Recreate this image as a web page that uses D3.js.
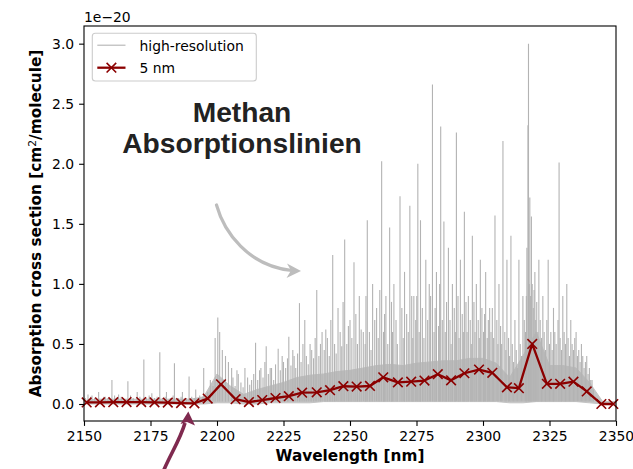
<!DOCTYPE html>
<html>
<head>
<meta charset="utf-8">
<script src="https://cdn.jsdelivr.net/npm/d3@7"></script>
<style>
  html, body { margin: 0; padding: 0; background: #fff; }
  svg { display: block; }
  text { font-family: "DejaVu Sans", sans-serif; }
</style>
</head>
<body>
<svg id="chart" width="633" height="469"></svg>
<script>
// ---- data -------------------------------------------------------------
// 5 nm convolved cross section (units of 1e-20 cm^2/molecule)
const wavelength5 = [2151, 2156, 2161, 2166, 2171.5, 2176.5, 2181.5, 2186.5, 2191.5, 2196.5,
  2201.5, 2207, 2212, 2217, 2222, 2227, 2232, 2237.5, 2242.5, 2247.5,
  2252.5, 2257.5, 2262.5, 2268, 2273, 2278, 2283, 2288, 2293, 2298.5,
  2303.5, 2309, 2313.5, 2318.5, 2324, 2329, 2334, 2339, 2344.5, 2349];
const values5 = [0.013, 0.014, 0.015, 0.016, 0.016, 0.014, 0.012, 0.008, 0.006, 0.045,
  0.164, 0.040, 0.016, 0.033, 0.050, 0.065, 0.094, 0.097, 0.115, 0.148,
  0.145, 0.150, 0.222, 0.180, 0.186, 0.195, 0.248, 0.197, 0.256, 0.287,
  0.260, 0.139, 0.132, 0.500, 0.168, 0.168, 0.186, 0.105, 0.000, 0.000];

// high-resolution spectrum: envelope of the dense line forest (every 5 nm)
const bandWavelength = [2150, 2155, 2160, 2165, 2170, 2175, 2180, 2185, 2190, 2195,
  2200, 2205, 2210, 2215, 2220, 2225, 2230, 2235, 2240, 2245,
  2250, 2255, 2260, 2265, 2270, 2275, 2280, 2285, 2290, 2295,
  2300, 2305, 2310, 2315, 2320, 2325, 2330, 2335, 2340, 2345, 2350];
const bandLow = [0.00, 0.00, 0.00, 0.00, 0.00, 0.00, 0.00, 0.00, 0.00, 0.00,
  0.01, 0.01, 0.00, 0.00, 0.01, 0.01, 0.01, 0.01, 0.02, 0.02,
  0.02, 0.02, 0.02, 0.02, 0.02, 0.02, 0.02, 0.02, 0.02, 0.02,
  0.02, 0.02, 0.01, 0.01, 0.02, 0.02, 0.02, 0.02, 0.01, 0.00, 0.00];
const bandHigh = [0.03, 0.04, 0.04, 0.04, 0.04, 0.04, 0.04, 0.04, 0.04, 0.06,
  0.25, 0.15, 0.08, 0.12, 0.15, 0.18, 0.22, 0.24, 0.25, 0.27,
  0.28, 0.30, 0.32, 0.33, 0.32, 0.34, 0.35, 0.36, 0.36, 0.38,
  0.38, 0.34, 0.22, 0.40, 0.60, 0.32, 0.32, 0.30, 0.18, 0.02, 0.02];

// high-resolution spectrum: strong individual lines [wavelength, peak]
const lineCenters = [2151.5, 2153, 2155.5, 2158, 2160.5, 2163, 2166.5, 2170, 2172.5, 2175.5,
  2178.5, 2181, 2184, 2187, 2189.5, 2192, 2195, 2197.5, 2199.3, 2200.3,
  2201, 2202, 2203.2, 2204.3, 2205.5, 2208, 2210.5, 2213, 2214.5, 2216.5,
  2218.5, 2220.5, 2223, 2225, 2227, 2229, 2231, 2233, 2235, 2237.5,
  2239.5, 2241.5, 2243.5, 2245.5, 2248, 2250, 2251.5, 2253.5, 2255, 2256.5,
  2258.5, 2260, 2261.9, 2263.5, 2264.9, 2266.5, 2268.8, 2270.5, 2272.5, 2274,
  2275.5, 2276.5, 2278.5, 2279.8, 2281, 2282.5, 2284.1, 2285.3, 2287, 2288.5,
  2290, 2291.5, 2293, 2294.5, 2296, 2297.5, 2299, 2301, 2302.5, 2304.5,
  2306, 2307.5, 2309, 2310.5, 2312, 2313.5, 2315, 2316.5, 2316.9, 2317.1,
  2317.6, 2318.2, 2319.5, 2321, 2322.5, 2324.5, 2326.5, 2328.6, 2330, 2331.5,
  2333, 2335, 2337, 2339, 2341];
const linePeaks = [0.08, 0.07, 0.10, 0.06, 0.20, 0.08, 0.19, 0.10, 0.37, 0.09,
  0.43, 0.10, 0.34, 0.10, 0.23, 0.12, 0.30, 0.20, 0.55, 0.72,
  0.60, 0.45, 0.40, 0.35, 0.30, 0.25, 0.30, 0.20, 0.51, 0.30,
  0.48, 0.30, 0.46, 0.35, 0.56, 0.40, 0.84, 0.70, 0.50, 0.95,
  0.60, 0.55, 1.24, 0.80, 1.37, 0.70, 1.18, 0.90, 0.60, 1.53,
  1.00, 0.80, 2.02, 0.90, 1.47, 1.00, 1.73, 1.10, 1.65, 0.90,
  2.00, 1.53, 1.20, 1.00, 2.66, 1.10, 2.31, 1.52, 1.30, 1.00,
  2.26, 1.20, 1.60, 0.90, 1.40, 1.00, 1.20, 1.10, 0.80, 1.57,
  1.00, 2.19, 1.20, 1.40, 0.70, 1.20, 0.90, 1.30, 2.32, 3.00,
  1.72, 1.56, 1.10, 1.20, 0.90, 1.20, 0.80, 2.01, 0.90, 1.00,
  0.70, 0.60, 0.50, 0.40, 0.20];

// high-resolution spectrum: weaker lines forming the jagged top of the forest
const weakCenters = [2150.5, 2152.5, 2154, 2156.5, 2157.5, 2159, 2161.5, 2162.5, 2164, 2165.5,
  2167.5, 2168.5, 2171, 2173.5, 2174.5, 2176.5, 2177.5, 2179.5, 2180.5, 2182.5,
  2183.5, 2185.5, 2186.5, 2188.5, 2190.5, 2191.5, 2193.5, 2194.5, 2196.5, 2198.5,
  2206.0, 2206.8, 2207.5, 2209.0, 2209.8, 2211.5, 2212.3, 2213.8, 2215.3, 2216.0,
  2217.3, 2218.0, 2219.3, 2220.0, 2221.3, 2222.0, 2223.8, 2224.5, 2225.8, 2226.5,
  2227.8, 2228.5, 2229.6, 2230.3, 2231.6, 2232.3, 2233.6, 2234.3, 2235.6, 2236.3,
  2236.9, 2238.3, 2238.9, 2240.3, 2240.9, 2242.2, 2242.8, 2244.2, 2244.8, 2246.3,
  2246.9, 2247.4, 2248.8, 2249.4, 2250.7, 2252.2, 2252.8, 2254.2, 2255.7, 2256.0,
  2257.3, 2257.9, 2259.3, 2260.6, 2261.2, 2262.6, 2263.0, 2264.2, 2265.6, 2266.0,
  2267.3, 2267.8, 2269.5, 2270.0, 2271.3, 2271.9, 2273.2, 2273.6, 2274.7, 2275.1,
  2276.0, 2277.2, 2277.8, 2279.2, 2280.3, 2281.6, 2282.0, 2283.3, 2283.7, 2284.7,
  2285.8, 2286.3, 2287.6, 2288.0, 2289.2, 2289.6, 2290.6, 2291.0, 2292.2, 2292.6,
  2293.6, 2294.0, 2295.2, 2295.6, 2296.6, 2297.0, 2298.2, 2298.6, 2299.6, 2300.2,
  2300.6, 2301.6, 2302.0, 2303.0, 2303.5, 2304.0, 2305.2, 2305.6, 2306.6, 2307.0,
  2308.2, 2308.6, 2309.6, 2310.0, 2311.0, 2311.5, 2312.5, 2313.0, 2314.0, 2314.5,
  2315.5, 2316.0, 2316.3, 2317.4, 2317.9, 2318.5, 2318.9, 2319.2, 2319.8, 2320.2,
  2320.6, 2321.5, 2322.0, 2323.0, 2323.5, 2324.0, 2325.0, 2325.5, 2326.0, 2327.0,
  2327.5, 2328.2, 2329.0, 2329.5, 2330.5, 2331.0, 2332.0, 2332.5, 2333.5, 2334.0,
  2334.5, 2335.5, 2336.0, 2336.5, 2337.5, 2338.0, 2338.5, 2339.5, 2340.0, 2340.5,
  2341.5];
const weakPeaks = [0.05, 0.06, 0.05, 0.04, 0.06, 0.05, 0.07, 0.05, 0.06, 0.04,
  0.07, 0.05, 0.06, 0.05, 0.07, 0.05, 0.06, 0.05, 0.06, 0.05,
  0.07, 0.05, 0.06, 0.05, 0.06, 0.05, 0.07, 0.06, 0.10, 0.15,
  0.22, 0.15, 0.28, 0.18, 0.14, 0.22, 0.16, 0.25, 0.20, 0.28,
  0.22, 0.35, 0.25, 0.30, 0.20, 0.33, 0.28, 0.40, 0.30, 0.38,
  0.32, 0.45, 0.30, 0.42, 0.35, 0.50, 0.40, 0.33, 0.45, 0.38,
  0.55, 0.40, 0.50, 0.45, 0.62, 0.40, 0.70, 0.50, 0.42, 0.60,
  0.48, 0.85, 0.50, 0.65, 0.55, 0.75, 0.50, 0.62, 0.50, 0.90,
  0.60, 0.45, 0.70, 0.55, 0.95, 0.60, 0.75, 0.50, 0.85, 0.60,
  0.70, 0.50, 0.80, 0.55, 0.75, 0.60, 0.90, 0.55, 0.70, 0.90,
  0.60, 0.80, 0.55, 0.70, 0.90, 0.60, 0.80, 0.65, 1.00, 0.70,
  0.60, 0.85, 0.70, 0.50, 0.80, 0.60, 0.90, 0.55, 0.75, 0.60,
  0.85, 0.60, 0.70, 0.50, 0.85, 0.60, 0.70, 0.55, 0.80, 0.60,
  0.75, 0.55, 0.70, 0.60, 0.80, 0.55, 0.70, 0.50, 0.65, 0.50,
  0.60, 0.45, 0.55, 0.40, 0.50, 0.35, 0.45, 0.30, 0.50, 0.40,
  0.70, 0.60, 0.90, 1.00, 0.90, 1.00, 0.80, 0.95, 0.70, 0.85,
  0.60, 0.70, 0.55, 0.60, 0.45, 0.70, 0.50, 0.60, 0.45, 0.60,
  0.50, 0.70, 0.55, 0.45, 0.60, 0.50, 0.55, 0.40, 0.50, 0.45,
  0.55, 0.40, 0.45, 0.35, 0.40, 0.30, 0.35, 0.25, 0.30, 0.20,
  0.12];

const xTicks = [2150, 2175, 2200, 2225, 2250, 2275, 2300, 2325, 2350];
const yTicks = [0.0, 0.5, 1.0, 1.5, 2.0, 2.5, 3.0];

// ---- layout -----------------------------------------------------------
const svg = d3.select("#chart");
const plot = { left: 84, right: 616, top: 26, bottom: 421 };

const x = d3.scaleLinear().domain([2150, 2350]).range([plot.left, plot.right]);
const y = d3.scaleLinear().domain([-0.1415, 3.147]).range([plot.bottom, plot.top]);

const hiresColor = "#b3b3b3";
const redColor = "#8b0000";

svg.append("defs").append("clipPath").attr("id", "plotClip")
  .append("rect")
  .attr("x", plot.left).attr("y", plot.top)
  .attr("width", plot.right - plot.left).attr("height", plot.bottom - plot.top);

const data = svg.append("g").attr("clip-path", "url(#plotClip)");

// dense part of the high-resolution spectrum
const band = bandWavelength.map((w, i) => ({ w, lo: bandLow[i], hi: bandHigh[i] }));
data.append("path")
  .datum(band)
  .attr("fill", "#c4c4c4")
  .attr("stroke", "#c4c4c4")
  .attr("stroke-width", 1)
  .attr("d", d3.area().x(d => x(d.w)).y0(d => y(d.lo)).y1(d => y(d.hi)));

// individual lines rising out of the forest
const lines = lineCenters.map((w, i) => ({ w, v: linePeaks[i] }))
  .concat(weakCenters.map((w, i) => ({ w, v: weakPeaks[i] })));
data.append("g").selectAll("line")
  .data(lines)
  .join("line")
  .attr("x1", d => x(d.w)).attr("x2", d => x(d.w))
  .attr("y1", y(0.02)).attr("y2", d => y(d.v))
  .attr("stroke", hiresColor)
  .attr("stroke-width", 1.1);

// 5 nm curve
const conv = wavelength5.map((w, i) => ({ w, v: values5[i] }));
data.append("path")
  .datum(conv)
  .attr("fill", "none")
  .attr("stroke", redColor)
  .attr("stroke-width", 2.3)
  .attr("stroke-linejoin", "round")
  .attr("d", d3.line().x(d => x(d.w)).y(d => y(d.v)));

const s = 4.8;
const crossPath = `M${-s},${-s}L${s},${s}M${-s},${s}L${s},${-s}`;
svg.append("g").selectAll("path")
  .data(conv)
  .join("path")
  .attr("transform", d => `translate(${x(d.w)},${y(d.v)})`)
  .attr("d", crossPath)
  .attr("stroke", redColor)
  .attr("stroke-width", 1.6)
  .attr("fill", "none");

// ---- axes -------------------------------------------------------------
const tickFont = "13.9px";
const xAxis = svg.append("g")
  .attr("transform", `translate(0,${plot.bottom})`)
  .call(d3.axisBottom(x).tickValues(xTicks).tickFormat(d3.format("d"))
    .tickSize(4.9).tickPadding(4.9));
const yAxis = svg.append("g")
  .attr("transform", `translate(${plot.left},0)`)
  .call(d3.axisLeft(y).tickValues(yTicks).tickFormat(d3.format(".1f"))
    .tickSize(4.9).tickPadding(4.9));
[xAxis, yAxis].forEach(g => {
  g.select(".domain").remove();
  g.selectAll(".tick line").attr("stroke", "#000").attr("stroke-width", 1.1);
  g.selectAll(".tick text").attr("fill", "#000")
    .style("font-family", "DejaVu Sans").style("font-size", tickFont);
});

// frame
svg.append("rect")
  .attr("x", plot.left).attr("y", plot.top)
  .attr("width", plot.right - plot.left).attr("height", plot.bottom - plot.top)
  .attr("fill", "none").attr("stroke", "#000").attr("stroke-width", 1.1);

// offset text
svg.append("text")
  .attr("x", plot.left).attr("y", 22)
  .style("font-size", tickFont)
  .text("1e\u221220");

// axis labels
svg.append("text")
  .attr("x", (plot.left + plot.right) / 2).attr("y", 461)
  .attr("text-anchor", "middle")
  .style("font-size", "15.3px").style("font-weight", "bold")
  .text("Wavelength [nm]");

const yl = svg.append("text")
  .attr("transform", `translate(41,${(plot.top + plot.bottom) / 2}) rotate(-90)`)
  .attr("text-anchor", "middle")
  .style("font-size", "15.3px").style("font-weight", "bold");
yl.append("tspan").text("Absorption cross section [cm");
yl.append("tspan").attr("dy", -5.5).style("font-size", "10.7px").style("font-weight", "normal").text("2");
yl.append("tspan").attr("dy", 5.5).text("/molecule]");

// ---- legend -----------------------------------------------------------
const lg = svg.append("g");
lg.append("rect")
  .attr("x", 92.3).attr("y", 33.3).attr("width", 164).attr("height", 47.7)
  .attr("rx", 3)
  .attr("fill", "#fff").attr("fill-opacity", 0.8)
  .attr("stroke", "#cccccc").attr("stroke-width", 1.1);
lg.append("line")
  .attr("x1", 97.3).attr("x2", 125.5).attr("y1", 45.2).attr("y2", 45.2)
  .attr("stroke", hiresColor).attr("stroke-width", 1.1);
lg.append("text").attr("x", 139.5).attr("y", 50.5)
  .style("font-size", tickFont).text("high-resolution");
lg.append("line")
  .attr("x1", 97.3).attr("x2", 125.5).attr("y1", 67.7).attr("y2", 67.7)
  .attr("stroke", redColor).attr("stroke-width", 2.3);
lg.append("path")
  .attr("transform", "translate(111.4,67.7)")
  .attr("d", crossPath)
  .attr("stroke", redColor).attr("stroke-width", 1.6).attr("fill", "none");
lg.append("text").attr("x", 139.5).attr("y", 72.9)
  .style("font-size", tickFont).text("5 nm");

// ---- annotation -------------------------------------------------------
const title = svg.append("text")
  .attr("text-anchor", "middle")
  .style("font-family", "'Liberation Sans', Arial, sans-serif")
  .style("font-weight", "bold").style("font-size", "28.2px")
  .attr("fill", "#222");
title.append("tspan").attr("x", 242).attr("y", 121.5).text("Methan");
title.append("tspan").attr("x", 242).attr("y", 153.3).text("Absorptionslinien");

// curved grey arrow pointing at the line forest
svg.append("path")
  .attr("d", "M216.5,205 C224,232 248,266 292,270.5")
  .attr("fill", "none").attr("stroke", "#bdbdbd").attr("stroke-width", 3.2)
  .attr("stroke-linecap", "round");
svg.append("path")
  .attr("d", "M301,271 L287,263.5 L291,270.6 L286.5,278 Z")
  .attr("fill", "#bdbdbd");

// purple arrow from below the axis
svg.append("path")
  .attr("d", "M163,472 C170,455 180,440 185,423")
  .attr("fill", "none").attr("stroke", "#7f2a4f").attr("stroke-width", 3.6);
svg.append("path")
  .attr("d", "M188.3,411.5 L195,425.5 L187,422 L180.5,424 Z")
  .attr("fill", "#7f2a4f");
</script>
</body>
</html>
